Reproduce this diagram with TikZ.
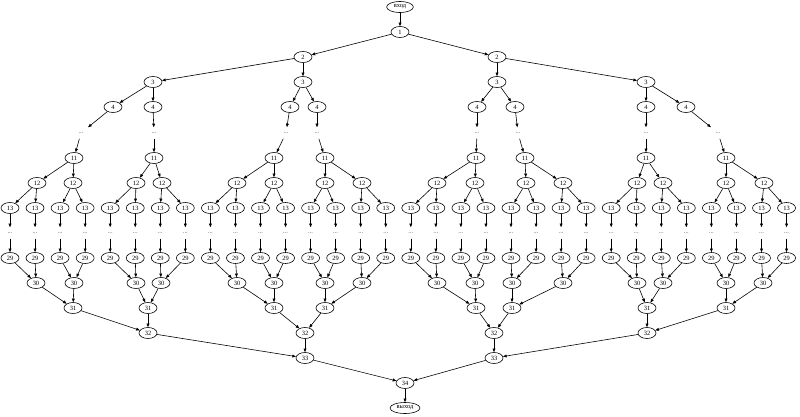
\documentclass[tikz,border=0pt]{standalone}
\usepackage{fontspec}
\setmainfont{Liberation Serif}
\usetikzlibrary{shapes.geometric,arrows.meta}

\tikzset{
  vert/.style={ellipse,draw,line width=0.5pt,inner sep=0pt,
    minimum width=0.54cm,minimum height=0.33cm,font=\fontsize{5.5}{6}\selectfont},
  puntos/.style={inner sep=0pt,minimum width=0.54cm,minimum height=0.33cm,
    font=\fontsize{5.5}{6}\selectfont,text=black!70},
  flecha/.style={-{Triangle[length=1.1mm,width=0.85mm]},line width=0.5pt},
}

\begin{document}
\begin{tikzpicture}[x=0.03cm,y=-0.03cm]
    \useasboundingbox (0,0) rectangle (800,417);

    % Entrada
    \node[vert,minimum width=0.8cm] (in) at (400,7) {вход};
    \node[vert] (v1-1) at (400,32) {1};

    % Ramas superiores
    \foreach \x [count=\i] in {303,497}
        \node[vert] (v2-\i) at (\x,57) {2};
    \foreach \x [count=\i] in {153,303,497,646}
        \node[vert] (v3-\i) at (\x,82) {3};
    \foreach \x [count=\i] in {113,153,290,317,477,515,646,686}
        \node[vert] (v4-\i) at (\x,107) {4};
    \foreach \x [count=\i] in {81,154,286,317,477,518,646,718}
        \node[puntos] (p1-\i) at (\x,133) {...};
    \foreach \x [count=\i] in {74,154,274,325,476,525,646,726}
        \node[vert] (v11-\i) at (\x,158) {11};
    \foreach \x [count=\i] in {37,73,136,162,237,274,325,362,437,475,526,563,637,663,726,764}
        \node[vert] (v12-\i) at (\x,183) {12};

    % Columnas 13 ... 29
    \foreach \i in {1,...,32} {
        \pgfmathsetmacro{\x}{10+25.05*(\i-1)}
        \node[vert] (v13-\i) at (\x,208) {13};
        \node[puntos] (p2-\i) at (\x,233) {...};
        \node[vert] (v29-\i) at (\x,258) {29};
    }

    % Ramas inferiores
    \foreach \x [count=\i] in {36,74,136,161,237,274,325,362,437,475,512,563,637,663,726,763}
        \node[vert] (v30-\i) at (\x,283) {30};
    \foreach \x [count=\i] in {73,148,274,325,476,512,647,726}
        \node[vert] (v31-\i) at (\x,308) {31};
    \foreach \x [count=\i] in {148,305,494,647}
        \node[vert] (v32-\i) at (\x,333) {32};
    \foreach \x [count=\i] in {305,494}
        \node[vert] (v33-\i) at (\x,358) {33};
    \node[vert] (v34-1) at (405,383) {34};

    % Salida
    \node[vert,minimum width=0.9cm] (out) at (405,408) {выход};

    % Aristas
    \draw[flecha] (in) -- (v1-1);
    \foreach \a/\b/\n in {v1/v2/2,v2/v3/4,v3/v4/8,v11/v12/16,v12/v13/32} {
        \foreach \i in {1,...,\n} {
            \pgfmathtruncatemacro{\p}{(\i+1)/2}
            \draw[flecha] (\a-\p) -- (\b-\i);
        }
    }
    \foreach \a/\b/\n in {v4/p1/8,p1/v11/8,v13/p2/32,p2/v29/32} {
        \foreach \i in {1,...,\n}
            \draw[flecha] (\a-\i) -- (\b-\i);
    }
    \foreach \a/\b/\n in {v29/v30/32,v30/v31/16,v31/v32/8,v32/v33/4,v33/v34/2} {
        \foreach \i in {1,...,\n} {
            \pgfmathtruncatemacro{\p}{(\i+1)/2}
            \draw[flecha] (\a-\i) -- (\b-\p);
        }
    }
    \draw[flecha] (v34-1) -- (out);
\end{tikzpicture}
\end{document}
